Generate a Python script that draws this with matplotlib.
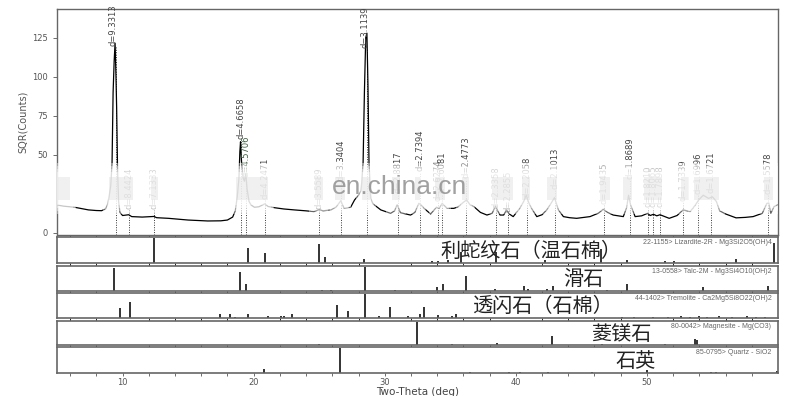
import matplotlib
matplotlib.use("Agg")
import matplotlib.pyplot as plt
from matplotlib.patches import Rectangle

two_theta = [5.0, 5.5, 6.0, 6.4, 7.0, 7.4, 8.0, 8.4, 8.7, 8.85, 8.95, 9.1, 9.2, 9.28, 9.36,
             9.43, 9.5, 9.55, 9.62, 9.7, 9.8, 10.0, 10.47, 10.7, 11.5, 12.4, 12.6, 13.5, 15.0,
             16.5, 17.5, 18.0, 18.4, 18.6, 18.75, 18.88, 18.95, 19.0, 19.08, 19.2, 19.3, 19.4,
             19.5, 19.65, 19.8, 20.06, 20.4, 20.85, 21.1, 21.6, 22.3, 23.1, 24.0, 24.6, 25.0,
             25.3, 25.9, 26.3, 26.65, 26.9, 27.4, 27.7, 28.0, 28.2, 28.35, 28.45, 28.55, 28.64,
             28.72, 28.8, 28.93, 29.1, 29.7, 30.45, 30.75, 30.95, 31.2, 31.97, 32.3, 32.6, 32.8,
             33.0, 33.5, 33.95, 34.15, 34.38, 34.76, 35.27, 35.6, 36.0, 36.25, 36.5, 36.8, 37.3,
             37.8, 38.2, 38.45, 38.65, 38.8, 39.07, 39.3, 39.5, 39.8, 40.3, 40.6, 40.8, 41.0,
             41.2, 41.6, 42.0, 42.36, 42.7, 42.95, 43.25, 43.63, 44.1, 44.64, 45.2, 45.66, 46.3,
             46.67, 47.0, 47.43, 48.2, 48.45, 48.6, 48.75, 49.1, 49.6, 50.05, 50.25, 50.5, 50.75,
             51.0, 51.7, 52.3, 52.76, 53.3, 53.7, 53.95, 54.3, 54.7, 55.0, 55.3, 55.55, 56.0,
             56.8, 57.5, 58.1, 58.8, 59.15, 59.3, 59.45, 59.7, 60.0]
counts = [17.8, 17.0, 16.6, 16.2, 15.2, 14.6, 14.2, 14.1, 15.2, 18.0, 22.0, 30.0, 45.0, 90.0, 110.0,
          121.6, 100.0, 80.0, 40.0, 20.0, 13.0, 11.0, 11.5, 10.3, 10.0, 10.4, 9.6, 9.2, 8.1,
          7.5, 7.6, 8.1, 10.0, 14.0, 23.0, 35.0, 52.0, 58.3, 45.0, 35.0, 33.0, 38.0,
          28.0, 20.0, 17.8, 16.3, 16.6, 18.5, 16.8, 16.0, 15.2, 14.6, 14.0, 13.5, 14.8,
          14.0, 14.6, 16.5, 20.5, 15.6, 16.3, 21.0, 24.0, 27.0, 45.0, 90.0, 125.0, 128.0,
          95.0, 45.0, 22.0, 18.5, 14.6, 12.4, 14.0, 18.0, 12.8, 11.3, 13.0, 18.8, 17.5,
          15.6, 12.0, 16.3, 15.5, 18.8, 15.6, 15.6, 16.5, 19.5, 21.0, 18.0, 16.7, 13.0,
          11.3, 12.5, 17.1, 13.5, 11.3, 11.3, 14.6, 12.0, 10.3, 15.6, 20.0, 24.0, 19.0,
          15.6, 10.3, 11.5, 14.6, 19.0, 22.5, 14.6, 10.3, 9.6, 9.2, 9.8, 10.3, 12.5,
          15.0, 13.0, 11.3, 10.3, 16.0, 24.0, 18.0, 10.3, 10.8, 12.4, 11.0, 11.8, 10.8,
          11.5, 9.2, 11.0, 14.6, 13.5, 17.8, 21.0, 24.0, 22.0, 23.0, 20.0, 14.0, 12.0,
          9.5, 9.8, 10.3, 12.4, 18.8, 19.0, 12.4, 16.7, 18.0]

# peak markers
peak_pos = [9.47, 10.47, 12.40, 19.00, 19.40, 20.90, 25.00, 26.66, 28.64, 31.00, 32.66,
            34.10, 34.36, 36.23, 38.50, 39.40, 40.88, 43.00, 46.70, 48.68, 50.05, 50.48,
            50.98, 52.76, 53.90, 54.86, 59.27]
peak_text = ["d=9.3313", "d=8.4424", "d=7.1333", "d=4.6658", "d=4.5706", "d=4.2471",
             "d=3.5589", "d=3.3404", "d=3.1139", "d=2.8817", "d=2.7394", "d=2.6274",
             "d=2.6081", "d=2.4773", "d=2.3358", "d=2.2855", "d=2.2058", "d=2.1013",
             "d=1.9435", "d=1.8689", "d=1.8210", "d=1.8065", "d=1.7898", "d=1.7339",
             "d=1.6996", "d=1.6721", "d=1.5578"]
peak_base = [119.0, 15.0, 15.0, 59.4, 35.0, 21.0, 14.5, 32.5, 118.0, 24.7, 38.8, 19.7, 24.7,
             34.4, 15.2, 13.0, 21.6, 27.4, 17.8, 33.8, 15.7, 15.7, 15.7, 19.7, 24.2, 24.7, 24.2]

# reference patterns (stick position, relative intensity)
liz_pos = [12.4, 19.55, 20.9, 24.95, 25.45, 28.4, 33.6, 34.1, 34.8, 35.8, 38.5, 42.2, 46.5,
           48.5, 51.4, 52.1, 56.8, 59.7]
liz_int = [100, 58, 38, 75, 22, 15, 8, 8, 10, 45, 45, 10, 55, 10, 8, 8, 15, 80]
talc_pos = [9.36, 18.97, 19.43, 25.25, 25.9, 28.5, 30.8, 34.0, 34.45, 36.2, 38.4, 40.6, 40.9,
            42.4, 42.8, 46.95, 48.45, 54.3, 59.2]
talc_int = [95, 80, 30, 4, 4, 100, 4, 15, 30, 60, 10, 20, 8, 10, 20, 5, 30, 15, 20]
trem_pos = [9.8, 10.55, 17.45, 18.16, 18.6, 19.6, 21.1, 22.1, 22.3, 22.9, 26.35, 27.2, 28.5,
            29.56, 30.4, 31.8, 32.7, 33.0, 34.1, 35.1, 35.4, 48.1, 49.0, 50.5, 51.6, 52.6,
            53.3, 54.0, 54.6, 55.5, 56.5, 57.6, 58.3, 59.0]
trem_int = [40, 65, 15, 15, 5, 15, 8, 7, 7, 15, 55, 30, 100, 7, 45, 10, 15, 45, 12, 8, 15, 6,
            5, 6, 5, 8, 6, 10, 6, 8, 5, 8, 6, 5]
mag_pos = [25.0, 32.47, 35.1, 38.55, 42.75, 46.55, 51.4, 53.7, 53.85]
mag_int = [3, 100, 3, 8, 40, 5, 5, 25, 20]
qtz_pos = [20.8, 26.6, 36.5, 39.45, 40.3, 42.45, 45.8, 50.0, 54.9, 55.3, 59.9]
qtz_int = [15, 100, 5, 5, 3, 4, 3, 12, 4, 2, 6]

ref_pos = [liz_pos, talc_pos, trem_pos, mag_pos, qtz_pos]
ref_int = [liz_int, talc_int, trem_int, mag_int, qtz_int]
ref_card = ["22-1155> Lizardite-2R - Mg3Si2O5(OH)4",
            "13-0558> Talc-2M - Mg3Si4O10(OH)2",
            "44-1402> Tremolite - Ca2Mg5Si8O22(OH)2",
            "80-0042> Magnesite - Mg(CO3)",
            "85-0795> Quartz - SiO2"]
ref_name = ["利蛇纹石（温石棉）", "滑石", "透闪石（石棉）", "菱镁石", "石英"]
name_x = [34.28, 43.63, 36.63, 45.76, 47.59]

# smudged spots of the watermark (2-theta ranges)
smudges = [(5.0, 6.1), (8.9, 10.9), (12.05, 12.8), (18.55, 21.2), (24.6, 25.4), (26.1, 27.05),
           (28.2, 28.95), (30.45, 31.25), (32.2, 32.8), (33.75, 34.7), (35.8, 36.55),
           (38.1, 39.85), (40.35, 41.2), (42.25, 43.25), (46.3, 47.3), (48.05, 48.95),
           (49.7, 51.25), (52.5, 53.3), (53.5, 55.6), (58.85, 59.75)]

W, H = 800, 396
fig = plt.figure(figsize=(W / 100, H / 100), dpi=100)
grey = "#555555"


def box(top, bottom):
    return [57 / W, (H - bottom) / H, 721 / W, (bottom - top) / H]


# ---- main pattern ----
ax = fig.add_axes(box(9, 235))
ax.plot(two_theta, counts, color="black", lw=0.9, zorder=3)
ax.set_xlim(5, 60)
ax.set_ylim(-1.5, 143.5)
ax.set_yticks([0, 50, 75, 100, 125])
ax.tick_params(axis="y", labelsize=6, colors=grey, length=3, width=0.6)
ax.tick_params(axis="x", bottom=False, labelbottom=False)
ax.set_ylabel("SQR(Counts)", fontsize=7, color=grey, labelpad=3)
for s in ax.spines.values():
    s.set_color("#666666")
    s.set_linewidth(1.0)

for x, t, b in zip(peak_pos, peak_text, peak_base):
    ax.vlines(x, -1.5, b, colors="#333333", lw=0.7, linestyles=(0, (1, 1.5)), zorder=2)
    dx = -0.18 if b > 100 else 0
    ax.text(x + dx, b + 0.5, t, rotation=90, ha="center", va="bottom", fontsize=6,
            color="#3f5f3f" if t == "d=4.5706" else "#444444", zorder=4)

# soft blurred spots: nested translucent boxes, densest in the middle
for x0, x1 in smudges:
    for k in range(4):
        px, py = (3 - k) * 0.12, (3 - k) * 2.0
        ax.add_patch(Rectangle((x0 - px, 18 - py), x1 - x0 + 2 * px, 21 + 2 * py,
                               facecolor="white", edgecolor="none", alpha=0.4, zorder=5))
    ax.add_patch(Rectangle((x0 + 0.1, 21), x1 - x0 - 0.2, 15, facecolor="#d0d0d0",
                           edgecolor="none", alpha=0.3, zorder=5))
ax.text(31.1, 29, "en.china.cn", fontsize=19, family="Liberation Sans", color="#8a8a8a",
        alpha=0.8, ha="center", va="center", zorder=6)

# ---- reference stick panels ----
panel_px = [(237, 263), (266, 291), (293, 318), (321, 345), (347, 373)]
for i, (top, bottom) in enumerate(panel_px):
    p = fig.add_axes(box(top, bottom), sharex=ax)
    p.vlines(ref_pos[i], 0, [v / 100 * 0.97 for v in ref_int[i]], colors="#333333", lw=1.4)
    p.set_ylim(0, 1)
    p.set_yticks([])
    for s in p.spines.values():
        s.set_color("#666666")
        s.set_linewidth(1.2)
    p.text(59.5, 0.93, ref_card[i], ha="right", va="top", fontsize=5, color="#666666",
           family="Liberation Sans")
    p.text(name_x[i], 0.45, ref_name[i], ha="left", va="center", fontsize=14.5,
           family=["Noto Sans CJK SC", "DejaVu Sans"], color="#222222")
    if i < 4:
        p.tick_params(axis="x", bottom=False, labelbottom=False)
    else:
        p.set_xticks([10, 20, 30, 40, 50])
        p.set_xticks(range(6, 60, 2), minor=True)
        p.tick_params(axis="x", which="both", labelsize=6, colors=grey, length=2.5,
                      width=0.6, pad=1)
        p.set_xlabel("Two-Theta (deg)", fontsize=7.5, color="#444444", labelpad=0)

fig.savefig("out.png", dpi=100, facecolor="white")
